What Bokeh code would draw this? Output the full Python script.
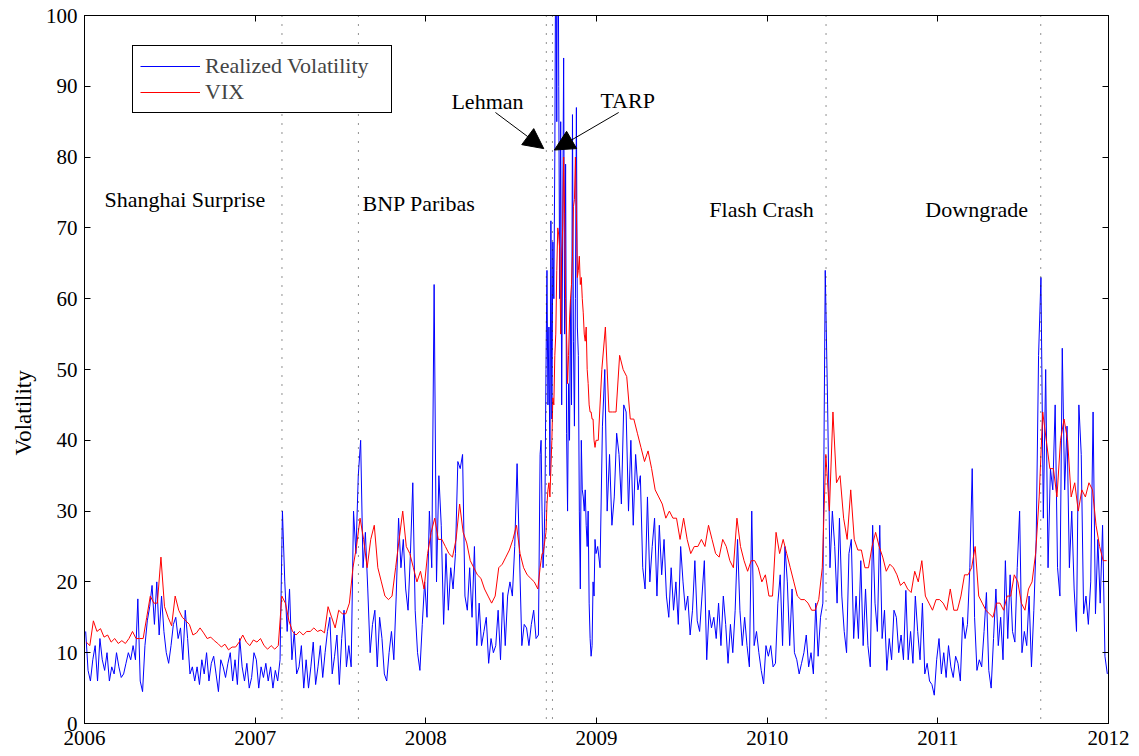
from bokeh.plotting import figure
from bokeh.models import (LinearAxis, FixedTicker, Arrow, NormalHead, Span,
                          Legend, LegendItem, Label, Title, CustomLabelingPolicy)
from bokeh.embed import file_html
from bokeh.resources import INLINE

# ---------------- data ----------------
# Realized volatility, 6 readings per month (Sep-Dec 2008 denser)
rv_2006 = [13, 7.5, 6, 9, 11, 6, 12, 9, 7.5, 10, 6, 8, 7, 10, 8, 6.5, 7, 8.5,
           10, 9, 11, 9, 17.6, 6, 4.5, 11, 14.5, 16.5, 19.5, 14, 20, 12.5, 18, 13, 10, 8.5,
           11, 14, 15, 12, 13.5, 9, 16, 12, 7, 8, 6, 8, 5.5, 9, 7, 10, 6, 8.5,
           9.5, 7, 4.5, 9, 8, 6.5, 8.5, 10, 6, 9, 5.5, 12, 8, 6, 8.5, 5, 6.5, 10]
rv_2007 = [9, 5, 8, 6.5, 8.5, 6, 8, 5, 7.5, 6, 9, 30, 20, 13, 19, 9, 13, 7,
           8, 11, 5, 9, 5, 8, 11.5, 5.5, 8, 11, 6.5, 10, 13, 15, 7, 9.5, 12.5, 5.5,
           12, 16, 8, 11, 8, 30, 24, 35, 40, 22, 27, 19, 10, 14, 16, 8, 15, 12,
           7, 6, 10, 13, 9, 18, 29, 22, 26, 19, 16, 24, 34, 16, 10, 7.5, 14, 20]
rv_2008a = [15, 30, 22, 62, 20, 35, 28, 14, 24, 16, 22, 19, 24, 37, 36, 38, 18, 16,
            22, 15, 25, 11, 17, 11, 13, 15, 8.5, 12, 10, 11, 16, 9, 18.5, 11, 18, 20,
            18, 25, 36.7, 24, 11, 14, 13.5, 11, 14, 16, 12, 12.5]
rv_2008b = [38, 40, 30, 22, 25, 32, 50, 64, 45, 56, 35, 71, 43, 68, 60, 80, 115, 85,
            130, 90, 60, 85, 45, 70, 94, 55, 79, 41, 30, 48, 40, 60, 45, 86, 54, 42,
            60, 87, 56, 52, 30, 19, 40, 33, 32, 30, 33, 28, 25, 30, 17, 12, 9.5, 11,
            20, 18, 26, 24]
rv_2009 = [25, 22, 42, 50, 30, 38, 28, 32, 41, 38, 31, 45, 44, 30, 40, 28, 38, 33,
           35, 22, 19, 32, 20, 25, 29, 18, 28, 21, 26, 18, 15, 22, 16, 20, 14, 25,
           20, 16, 18, 12.5, 16, 23, 14.5, 13, 18, 23, 9, 16, 13.5, 15, 12, 17, 11, 18,
           14, 8.5, 14, 10, 16, 26, 16, 11, 15, 11, 8, 30, 11, 13, 10, 7.5, 5.6, 11]
rv_2010 = [9.5, 11, 8, 8.5, 17, 21, 11, 25, 20, 11, 19, 10, 9, 7, 8.5, 10, 12.5, 8,
           10, 7, 17, 9.5, 15, 17, 64, 45, 22, 30, 25, 17, 29, 18, 13, 10, 24, 26,
           12, 18, 12, 23, 11, 19, 11, 8, 28, 17, 13, 28, 12, 16, 7.5, 12, 9, 16,
           15, 10, 12.5, 9, 18.8, 9, 13, 8.5, 18, 13, 9, 17, 7, 8.5, 6, 5.5, 4, 9]
rv_2011 = [12, 7, 10, 6.5, 11, 8, 6.5, 9.5, 8.5, 6, 15, 12, 14, 22, 36, 15, 7.5, 9,
           8, 13, 18.5, 7.5, 5, 12, 19, 11, 15, 9, 23, 12, 21, 13, 11.5, 22, 30, 10,
           13, 11, 18, 8, 16, 26, 52, 63, 29, 50, 22, 36, 33, 45, 22, 18, 53, 33,
           42, 22, 30, 19, 13, 45, 38, 15.5, 18, 14, 20, 44, 15.5, 26, 17, 28, 9.5, 7]

# VIX, 4 readings per month (Sep-Dec 2008 denser)
vix_2006 = [11.5, 11, 14.5, 13, 13.4, 12.2, 12.5, 11.5, 12, 11.3, 11.7, 11.3,
            12, 13, 12, 12, 12, 15, 18, 17, 17, 23.5, 16.5, 15,
            13.8, 18, 16, 15, 14.5, 14, 12.5, 12.8, 13.5, 12.8, 12, 12.2,
            11.7, 11.3, 10.8, 11.2, 10.4, 10.8, 10.8, 11.5, 12.5, 11.5, 11, 11.8]
vix_2007 = [11.5, 12, 11, 10.5, 11, 10.5, 11, 18, 17, 14.5, 13, 12.5,
            13, 12.5, 13, 13, 13.5, 13, 13.2, 12.8, 16.5, 15, 13.5, 16,
            15.5, 15.5, 17, 22, 25, 29, 26, 22, 26, 28, 22, 20,
            18, 17.5, 18, 22, 26, 30, 25, 24, 22, 20, 21.5, 19]
vix_2008a = [24, 27, 29, 26, 26, 25, 24, 23.5, 26, 31, 27, 25.5, 23, 22, 21, 20.5,
             19, 18, 17, 18, 22, 22.5, 23.5, 24.5, 26, 28, 24, 22, 21, 20.5, 20, 19]
vix_2008b = [22, 23, 24, 24, 25, 26, 27, 31, 33, 34, 32, 36, 40, 46, 45, 52, 55, 64,
             70, 69, 67, 55, 66, 70, 80, 72, 60, 55, 48, 52, 57, 60, 62, 66, 73, 74,
             80, 72, 63, 64, 66, 62, 63, 60, 58, 55, 54, 56, 50, 48, 45, 44, 44, 43,
             43, 40, 39, 40]
vix_2009 = [40, 50, 56, 44, 44, 44, 52, 50, 49, 43, 43, 41, 39, 37, 38.5, 36,
            33, 32, 31, 29, 30, 29, 29, 26, 29, 26, 24, 25, 25, 26, 25, 28,
            26, 24, 23.5, 26, 25, 23, 22, 29, 25, 23, 21.5, 23, 23, 22, 20, 21]
vix_2010 = [18, 18, 27, 24, 26, 24, 22, 20, 18, 17.5, 17.5, 17, 16, 16, 17.5, 22,
            38, 30, 44, 34, 35, 29, 26, 33, 26, 24.5, 24.5, 22, 22, 25, 27, 25,
            23.5, 21.5, 22.5, 22, 21, 19.5, 20, 19, 18.5, 21.5, 20, 23, 18, 17, 16, 17.5]
vix_2011 = [17.5, 17, 16, 19, 16, 16, 18, 21, 21, 22, 25, 18, 17, 16, 15.5, 15,
            17, 17, 16, 18, 18, 21, 20, 17, 16, 19, 20, 24, 32, 44, 40, 36,
            36, 32, 40, 43, 40, 32, 34, 30, 33, 32, 34, 33, 28, 25, 23, 23]

# date spans (decimal years) covered by each block of readings
rv_blocks = [(rv_2006, 2006.0, 2007.0), (rv_2007, 2007.0, 2008.0),
             (rv_2008a, 2008.0, 2008 + 8 / 12), (rv_2008b, 2008 + 8 / 12, 2009.0),
             (rv_2009, 2009.0, 2010.0), (rv_2010, 2010.0, 2011.0), (rv_2011, 2011.0, 2012.0)]
vix_blocks = [(vix_2006, 2006.0, 2007.0), (vix_2007, 2007.0, 2008.0),
              (vix_2008a, 2008.0, 2008 + 8 / 12), (vix_2008b, 2008 + 8 / 12, 2009.0),
              (vix_2009, 2009.0, 2010.0), (vix_2010, 2010.0, 2011.0), (vix_2011, 2011.0, 2012.0)]

# event dates (decimal years) and their labels
event_dates = [2007.157, 2007.605, 2008.706, 2008.742, 2010.345, 2011.603]
event_labels = ["Shanghai Surprise", "BNP Paribas", "Lehman", "TARP", "Flash Crash", "Downgrade"]
label_x = [2006.117, 2007.629, 2008.150, 2009.023, 2009.661, 2010.927]
label_y = [74.0, 73.4, 87.8, 88.0, 72.6, 72.6]

x_ticks = [2006, 2007, 2008, 2009, 2010, 2011, 2012]
y_ticks = [0, 10, 20, 30, 40, 50, 60, 70, 80, 90, 100]
y_title = "Volatility"


def expand(blocks):
    xs, ys = [], []
    for vals, start, end in blocks:
        step = (end - start) / len(vals)
        xs += [start + (i + 0.5) * step for i in range(len(vals))]
        ys += list(vals)
    return xs, ys


rv_x, rv_y = expand(rv_blocks)
vix_x, vix_y = expand(vix_blocks)

FONT = "Liberation Serif"
FS = "21px"
FS_TXT = "22px"

p = figure(width=1139, height=756, x_range=(2006, 2012), y_range=(0, 100),
           output_backend="svg", toolbar_location=None,
           min_border_left=84, min_border_right=31, min_border_top=15, min_border_bottom=33)
p.background_fill_color = "white"
p.border_fill_color = "white"
p.outline_line_color = "black"
p.outline_line_width = 1
p.xgrid.visible = False
p.ygrid.visible = False

for ax in p.xaxis:
    ax.ticker = FixedTicker(ticks=x_ticks)
for ax in p.yaxis:
    ax.ticker = FixedTicker(ticks=y_ticks)

for ax in list(p.xaxis) + list(p.yaxis):
    ax.major_label_text_font = FONT
    ax.major_label_text_font_size = FS
    ax.major_label_text_color = "black"
    ax.major_tick_in = 6
    ax.major_tick_out = 0
    ax.minor_tick_line_color = None
    ax.axis_line_color = "black"
    ax.major_label_standoff = 7

top_ax = LinearAxis(ticker=FixedTicker(ticks=x_ticks), major_tick_in=6, major_tick_out=0,
                    minor_tick_line_color=None,
                    major_label_policy=CustomLabelingPolicy(code="for (const i of indices) { if (false) yield i }"),
                    major_label_standoff=0)
right_ax = LinearAxis(ticker=FixedTicker(ticks=y_ticks), major_tick_in=6, major_tick_out=0,
                      minor_tick_line_color=None,
                      major_label_policy=CustomLabelingPolicy(code="for (const i of indices) { if (false) yield i }"),
                      major_label_standoff=0)
p.add_layout(top_ax, "above")
p.add_layout(right_ax, "right")

# y axis title, a little below the centre as in the reference
p.add_layout(Title(text=y_title, align="left", offset=268, text_font=FONT,
                   text_font_size="23px", text_font_style="normal", text_color="black",
                   standoff=14), "left")

# event lines
for d in event_dates:
    p.add_layout(Span(location=d, dimension="height", line_color="#222222",
                      line_width=1, line_dash="1 8"))

r_rv = p.line(rv_x, rv_y, line_color="#0000FF", line_width=1)
r_vix = p.line(vix_x, vix_y, line_color="#FF0000", line_width=1)

for t, lx, ly in zip(event_labels, label_x, label_y):
    p.add_layout(Label(x=lx, y=ly, text=t, text_font=FONT, text_font_size=FS_TXT,
                       text_baseline="middle", text_align="left", text_color="black"))

# arrows for Lehman and TARP
p.add_layout(Arrow(end=NormalHead(size=20, fill_color="black", line_color="black"),
                   x_start=2008.408, y_start=86.3, x_end=event_dates[2] - 0.015, y_end=81.2,
                   line_color="black", line_width=1))
p.add_layout(Arrow(end=NormalHead(size=20, fill_color="black", line_color="black"),
                   x_start=2009.130, y_start=86.3, x_end=event_dates[3] + 0.011, y_end=81.0,
                   line_color="black", line_width=1))

legend = Legend(items=[LegendItem(label="Realized Volatility", renderers=[r_rv]),
                       LegendItem(label="VIX", renderers=[r_vix])],
                location=(48, 610))
legend.label_text_font = FONT
legend.label_text_font_size = FS_TXT
legend.glyph_width = 60
legend.glyph_height = 20
legend.label_height = 20
legend.label_width = 179
legend.label_standoff = 5
legend.spacing = 0
legend.padding = 7
legend.margin = 0
legend.border_line_color = "black"
legend.border_line_alpha = 1
legend.border_line_width = 1
legend.background_fill_color = "white"
legend.background_fill_alpha = 1
p.add_layout(legend)

open("out.html", "w").write(file_html(p, INLINE))
